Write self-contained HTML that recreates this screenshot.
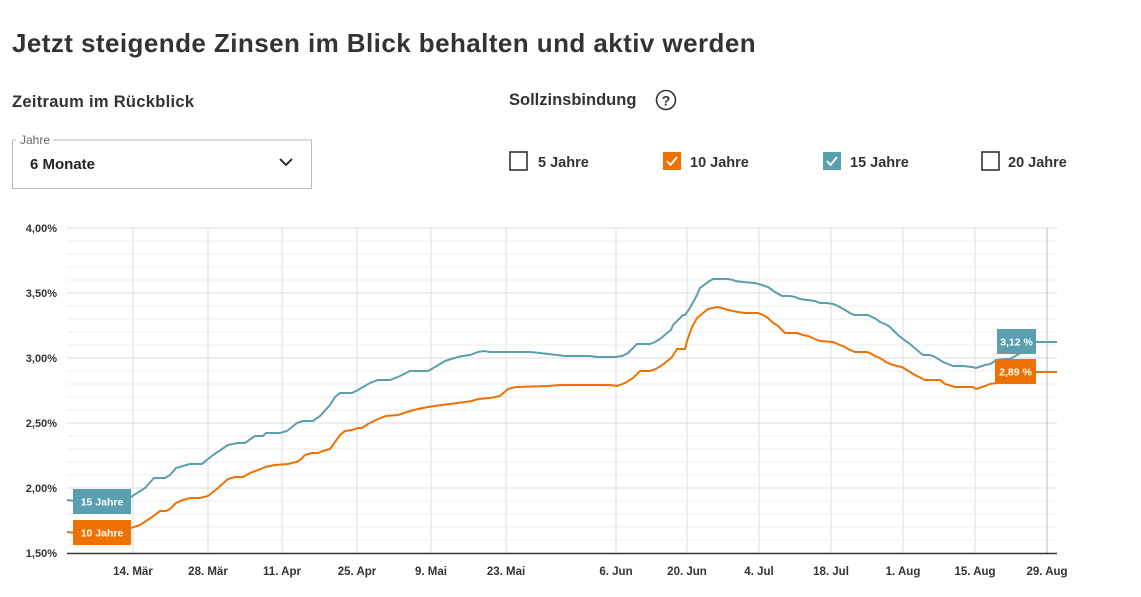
<!DOCTYPE html>
<html><head><meta charset="utf-8"><style>
body{margin:0;background:#fff;width:1141px;height:592px;overflow:hidden;font-family:"Liberation Sans",sans-serif}
</style></head><body>
<svg width="1141" height="592" xmlns="http://www.w3.org/2000/svg" font-family="Liberation Sans, sans-serif">
<text x="12" y="52" font-size="26" font-weight="bold" fill="#333" letter-spacing="0.43">Jetzt steigende Zinsen im Blick behalten und aktiv werden</text>
<text x="12" y="107" font-size="16.5" font-weight="bold" fill="#333" letter-spacing="0.3">Zeitraum im Rückblick</text>
<text x="509" y="105" font-size="16.5" font-weight="bold" fill="#333">Sollzinsbindung</text>
<circle cx="666" cy="100" r="9.5" fill="none" stroke="#333" stroke-width="1.6"/>
<text x="666" y="105.5" font-size="14" font-weight="bold" text-anchor="middle" fill="#333">?</text>
<path d="M12.5 140 H16 M53 140 H311.5 V188.5 H12.5 V140" fill="none" stroke="#bbb"/>
<text x="20" y="144" font-size="12" fill="#666">Jahre</text>
<text x="30" y="169" font-size="15" font-weight="bold" fill="#222">6 Monate</text>
<path d="M280 159 l6 6 l6 -6" fill="none" stroke="#333" stroke-width="2"/>
<rect x="510" y="152" width="17" height="18" fill="none" stroke="#333" stroke-width="1.6"/>
<text x="538" y="167" font-size="14.5" font-weight="bold" fill="#333">5 Jahre</text>
<rect x="663" y="152" width="18" height="18" fill="#ee7203"/>
<path d="M667 161 l3.5 4 l6.5 -8" fill="none" stroke="#fff" stroke-width="1.8"/>
<text x="690" y="167" font-size="14.5" font-weight="bold" fill="#333">10 Jahre</text>
<rect x="823" y="152" width="18" height="18" fill="#5a9fb0"/>
<path d="M827 161 l3.5 4 l6.5 -8" fill="none" stroke="#fff" stroke-width="1.8"/>
<text x="850" y="167" font-size="14.5" font-weight="bold" fill="#333">15 Jahre</text>
<rect x="982" y="152" width="17" height="18" fill="none" stroke="#333" stroke-width="1.6"/>
<text x="1008" y="167" font-size="14.5" font-weight="bold" fill="#333">20 Jahre</text>
<g stroke="#eee" stroke-width="1">
<path d="M67 241H1057M67 254H1057M67 267H1057M67 280H1057M67 306H1057M67 319H1057M67 332H1057M67 345H1057M67 371H1057M67 384H1057M67 397H1057M67 410H1057M67 436H1057M67 449H1057M67 462H1057M67 475H1057M67 501H1057M67 514H1057M67 527H1057M67 540H1057"/>
</g>
<g stroke="#ddd" stroke-width="1">
<path d="M67 228H1057M67 293H1057M67 358H1057M67 423H1057M67 488H1057"/>
<path d="M133 228V553M208 228V553M282 228V553M357 228V553M431 228V553M506 228V553M616 228V553M687 228V553M759 228V553M831 228V553M903 228V553M975 228V553"/>
</g>
<path d="M1047 228V553" stroke="#bbb"/>
<path d="M67 553.5H1057" stroke="#333" stroke-width="1.5"/>
<g font-size="11" fill="#333" text-anchor="end" font-weight="bold">
<text x="57" y="232">4,00%</text><text x="57" y="297">3,50%</text><text x="57" y="362">3,00%</text><text x="57" y="427">2,50%</text><text x="57" y="492">2,00%</text><text x="57" y="557">1,50%</text>
</g>
<g font-size="11.5" fill="#333" text-anchor="middle" font-weight="bold">
<text x="133" y="575">14. Mär</text><text x="208" y="575">28. Mär</text><text x="282" y="575">11. Apr</text><text x="357" y="575">25. Apr</text><text x="431" y="575">9. Mai</text><text x="506" y="575">23. Mai</text><text x="616" y="575">6. Jun</text><text x="687" y="575">20. Jun</text><text x="759" y="575">4. Jul</text><text x="831" y="575">18. Jul</text><text x="903" y="575">1. Aug</text><text x="975" y="575">15. Aug</text><text x="1047" y="575">29. Aug</text>
</g>
<polyline fill="none" stroke="#5a9fb0" stroke-width="2" points="67,500 75,501 131,497 145,488 154,478 165,478 170,475 176,468 183,466 190,464 202,464 213,455 228,445 238,443 245,443 252,438 255,436 263,436 266,433 280,433 287,431 297,423 303,421 313,421 320,416 330,405 335,397 340,393 352,393 358,390 363,387 370,383 378,380 390,380 400,376 410,371 428,371 435,367 445,361 451,359 462,356 470,355 478,352 484,351 490,352 498,352 515,352 530,352 540,353 565,356 590,356 597,357 615,357 622,356 628,353 633,348 637,344 650,344 655,342 660,339 667,333 671,330 673,325 683,315 685,315 690,308 697,295 700,288 708,282 713,279 728,279 733,280 735,281 743,282 755,283 762,285 768,287 775,292 782,296 790,296 795,297 800,299 807,300 815,301 820,303 827,303 833,304 838,306 845,310 850,313 854,315 868,315 870,316 876,319 880,322 887,325 890,327 898,335 903,339 910,344 918,351 923,355 930,355 935,357 943,362 953,366 963,366 972,367 976,368 985,365 990,364 997,360 1005,359 1010,359 1017,355 1022,352 1030,345 1036,342 1057,342"/>
<polyline fill="none" stroke="#ee7203" stroke-width="2" points="67,532 75,533 131,528 140,525 152,517 160,511 166,511 170,509 176,503 183,500 190,498 200,498 208,496 218,488 228,479 235,477 243,477 250,473 258,470 263,468 265,467 275,465 288,464 296,462 299,461 305,455 312,453 318,453 323,451 330,449 335,442 340,435 345,431 352,430 358,428 362,428 368,424 378,419 386,416 398,415 410,411 418,409 428,407 442,405 450,404 472,401 478,399 490,398 500,396 508,389 516,387 548,386 560,385 590,385 610,385 617,386 625,383 633,378 640,371 650,371 656,369 665,363 672,357 677,349 685,349 687,341 692,327 697,318 708,309 717,307 722,308 728,310 733,311 738,312 745,313 758,313 763,315 768,318 772,322 778,326 785,333 797,333 803,335 808,336 815,339 820,341 833,342 840,345 845,347 848,349 855,352 867,352 870,353 875,356 880,358 886,362 890,364 897,366 902,367 910,372 915,375 925,380 940,380 945,384 955,387 973,387 976,389 985,386 990,384 997,383 1005,381 1012,380 1020,377 1028,372 1036,372 1057,372"/>
<rect x="73" y="489" width="58" height="25" fill="#5a9fb0"/>
<text x="102" y="505.5" font-size="10.5" font-weight="bold" fill="#fff" text-anchor="middle">15 Jahre</text>
<rect x="73" y="520" width="58" height="25" fill="#ee7203"/>
<text x="102" y="536.5" font-size="10.5" font-weight="bold" fill="#fff" text-anchor="middle">10 Jahre</text>
<rect x="997" y="329" width="39" height="25" fill="#5a9fb0"/>
<text x="1016.5" y="345.5" font-size="10.5" font-weight="bold" fill="#fff" text-anchor="middle">3,12 %</text>
<rect x="995" y="359" width="41" height="25" fill="#ee7203"/>
<text x="1015.5" y="375.5" font-size="10.5" font-weight="bold" fill="#fff" text-anchor="middle">2,89 %</text>
</svg>
</body></html>
